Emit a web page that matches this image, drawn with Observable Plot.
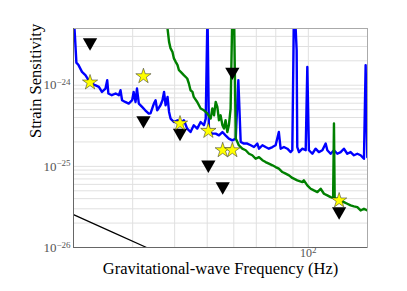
<!DOCTYPE html>
<html><head><meta charset="utf-8">
<script src="https://cdn.jsdelivr.net/npm/d3@7"></script>
<script src="https://cdn.jsdelivr.net/npm/@observablehq/plot@0.6"></script>
<style>body{margin:0;background:#fff}</style>
</head><body><div id="chart"></div>
<script>
// Blue detector noise curve: [frequency Hz, strain]
const blueCurve = [[20.0,8e-24],[20.2,4e-24],[20.4,1.9e-24],[20.7,1.77e-24],[21.2,1.46e-24],[21.7,1.33e-24],[22.2,1.15e-24],[22.7,1.05e-24],[23.2,1.0e-24],[23.8,9.53e-25],[24.3,8.27e-25],[24.9,9.1e-25],[25.2,1.15e-24],[25.4,7.9e-25],[26.0,7.53e-25],[26.7,7.9e-25],[27.3,7.53e-25],[27.6,8.67e-25],[27.9,6.53e-25],[28.5,6.22e-25],[29.2,5.94e-25],[29.9,6.53e-25],[30.2,8.27e-25],[30.6,6.22e-25],[30.9,9.1e-25],[31.3,5.94e-25],[32.0,5.4e-25],[32.7,4.91e-25],[33.5,4.47e-25],[33.9,4.5e-25],[34.7,5.94e-25],[35.1,6.53e-25],[35.5,4.91e-25],[36.3,5.66e-25],[36.8,6.53e-25],[37.2,8.27e-25],[37.6,5.66e-25],[38.1,7.17e-25],[38.5,4.68e-25],[38.9,3.88e-25],[39.8,3.52e-25],[40.8,3.7e-25],[41.7,3.21e-25],[42.6,3.7e-25],[43.6,2.92e-25],[44.6,2.65e-25],[45.6,3.21e-25],[46.7,2.92e-25],[47.8,3.52e-25],[48.9,3.21e-25],[49.5,3.88e-25],[50.1,8e-24],[50.6,2.65e-25],[51.8,2.53e-25],[53.0,2.53e-25],[54.2,2.41e-25],[55.5,2.65e-25],[56.7,2.41e-25],[58.0,2.2e-25],[59.4,2.09e-25],[60.8,2.2e-25],[61.9,1.15e-24],[62.9,2.0e-25],[64.3,1.91e-25],[65.8,1.91e-25],[67.4,1.82e-25],[68.9,1.73e-25],[70.5,1.91e-25],[71.3,1.65e-25],[73.0,1.82e-25],[74.6,1.73e-25],[76.3,1.65e-25],[78.2,1.73e-25],[79.9,1.82e-25],[81.7,2.65e-25],[82.7,1.65e-25],[84.6,1.73e-25],[86.6,1.65e-25],[88.6,1.5e-25],[89.6,1.58e-25],[90.6,8e-24],[91.2,8e-24],[92.3,2.7e-24],[92.7,1.73e-25],[93.8,1.5e-25],[96.0,1.65e-25],[98.2,1.58e-25],[99.3,1.68e-24],[100.4,1.58e-25],[102.8,1.43e-25],[105.1,1.65e-25],[107.5,1.5e-25],[110.1,1.58e-25],[112.6,1.91e-25],[113.9,1.58e-25],[116.5,1.43e-25],[119.2,1.58e-25],[122.0,1.43e-25],[124.8,1.5e-25],[127.6,1.65e-25],[130.6,1.43e-25],[133.6,1.5e-25],[136.7,1.37e-25],[139.9,1.43e-25],[143.1,1.37e-25],[146.4,1.24e-25],[148.1,1.77e-24],[149.8,1.3e-25]];
// Green detector noise curve
const greenCurve = [[37.6,8e-24],[38.5,3.42e-24],[38.9,2.84e-24],[39.4,2.58e-24],[39.8,2.14e-24],[40.3,1.94e-24],[40.8,1.77e-24],[41.2,1.53e-24],[41.7,1.46e-24],[42.6,1.33e-24],[43.6,1.21e-24],[44.1,1.05e-24],[44.6,8.67e-25],[45.2,8.27e-25],[45.6,7.17e-25],[46.7,6.22e-25],[47.8,5.16e-25],[48.9,4.91e-25],[50.1,4.47e-25],[51.2,3.88e-25],[51.8,5.16e-25],[52.4,4.26e-25],[53.0,6.22e-25],[53.6,5.4e-25],[54.2,3.7e-25],[54.8,4.26e-25],[55.5,3.21e-25],[56.1,2.92e-25],[56.7,3.7e-25],[57.4,2.65e-25],[58.0,3.21e-25],[58.7,5.16e-25],[59.4,8e-24],[60.1,8e-24],[60.8,2.2e-25],[61.5,2.0e-25],[62.1,1.82e-25],[63.6,1.65e-25],[65.1,1.58e-25],[66.6,1.43e-25],[68.1,1.37e-25],[69.7,1.24e-25],[71.3,1.3e-25],[73.0,1.19e-25],[74.6,1.13e-25],[76.3,1.08e-25],[78.2,1.03e-25],[79.9,9.8e-26],[81.7,9.37e-26],[83.7,8.51e-26],[85.6,8.13e-26],[87.6,7.74e-26],[89.6,7.2e-26],[92.7,6.72e-26],[96.0,6.4e-26],[97.0,6.72e-26],[99.3,5.83e-26],[101.6,5.3e-26],[103.9,5.05e-26],[106.4,4.82e-26],[108.8,5.3e-26],[111.3,4.6e-26],[113.9,4.39e-26],[116.5,4.18e-26],[118.5,4.1e-26],[119.2,3.37e-25],[119.8,4.0e-26],[122.0,3.99e-26],[124.8,3.8e-26],[127.6,3.63e-26],[130.6,3.46e-26],[133.6,3.3e-26],[136.7,3.21e-26],[139.9,3.14e-26],[143.1,2.86e-26],[146.4,3.0e-26],[149.8,2.86e-26]];
// Black reference line
const blackCurve = [[20,2.54e-26],[26,1.56e-26],[33,1.0e-26],[40,7.0e-27]];
// Events
const eventFreq = [22.4, 32.3, 41.5, 50.4, 55.6, 59.4, 123.5];
const starStrain = [1.08e-24, 1.29e-24, 3.37e-25, 2.73e-25, 1.58e-25, 1.58e-25, 3.8e-26];
const limitStrain = [3.37e-24, 3.7e-25, 2.58e-25, 1.05e-25, 5.66e-26, 1.46e-24, 2.78e-26];
// Ticks / grid
const yTicks = [1e-26, 1e-25, 1e-24];
const xTicks = [100];
const xGrid = [20, 30, 40, 50, 60, 70, 80, 90, 100];
const yGrid = [];
for (const e of [-26, -25, -24]) for (let m = 1; m <= 9; m++) { const v = m * Math.pow(10, e); if (v <= 5e-24) yGrid.push(v); }
const xLabel = "Gravitational-wave Frequency (Hz)";
const yLabel = "Strain Sensitivity";

const events = eventFreq.map((f, i) => ({f, star: starStrain[i], limit: limitStrain[i]}));
const toRows = a => a.map(([f, s]) => ({f, s}));
const pow10 = d => "10^" + Math.round(Math.log10(d));
const font = "'Liberation Serif', 'Times New Roman', serif";

const chart = Plot.plot({
  width: 407, height: 291,
  marginLeft: 73, marginRight: 40, marginTop: 28, marginBottom: 44,
  style: {fontFamily: font, background: "#fff"},
  x: {type: "log", domain: [20, 150]},
  y: {type: "log", domain: [1e-26, 5e-24]},
  marks: [
    Plot.gridX(xGrid, {stroke: "#e0e0e0", strokeOpacity: 1}),
    Plot.gridY(yGrid, {stroke: "#e0e0e0", strokeOpacity: 1}),
    Plot.line(toRows(blackCurve), {x: "f", y: "s", stroke: "black", strokeWidth: 1.2, clip: true}),
    Plot.line(toRows(blueCurve), {x: "f", y: "s", stroke: "#0000ff", strokeWidth: 2.4, clip: true}),
    Plot.line(toRows(greenCurve), {x: "f", y: "s", stroke: "#008000", strokeWidth: 2.4, clip: true}),
    Plot.frame({stroke: "#aaa"}),
    Plot.ruleX([20], {stroke: "#666"}),
    Plot.ruleY([1e-26], {stroke: "#666"}),
    Plot.dot(events, {x: "f", y: "limit", symbol: "triangle", rotate: 180, r: 5.3, fill: "black", stroke: "none"}),
    Plot.dot(events, {x: "f", y: "star", symbol: "star", r: 4.8, fill: "#ffff00", stroke: "#222", strokeWidth: 0.5}),
    Plot.axisY(yTicks, {tickSize: 0, tickPadding: 3, tickFormat: pow10, fontSize: 13, fill: "#555", label: null}),
    Plot.axisX(xTicks, {tickSize: 0, tickPadding: 1, tickFormat: pow10, fontSize: 12, fill: "#555", label: null}),
    Plot.text([xLabel], {frameAnchor: "bottom", dy: 26, fontSize: 16.5, fill: "black"}),
    Plot.text([yLabel], {frameAnchor: "left", rotate: -90, dx: -38, fontSize: 16.5, fill: "black"})
  ]
});
// render "10^n" tick labels as 10 with superscript exponent
d3.select(chart).selectAll('g[aria-label$="tick label"] text').each(function () {
  const t = this.textContent;
  const i = t.indexOf("^");
  if (i < 0) return;
  const base = t.slice(0, i), exp = t.slice(i + 1).replace("-", "\u2212");
  const sel = d3.select(this);
  sel.text(null);
  sel.append("tspan").text(base);
  sel.append("tspan").attr("dy", "-0.45em").attr("font-size", "9px").text(exp);
});
document.getElementById("chart").appendChild(chart);
</script>
</body></html>
